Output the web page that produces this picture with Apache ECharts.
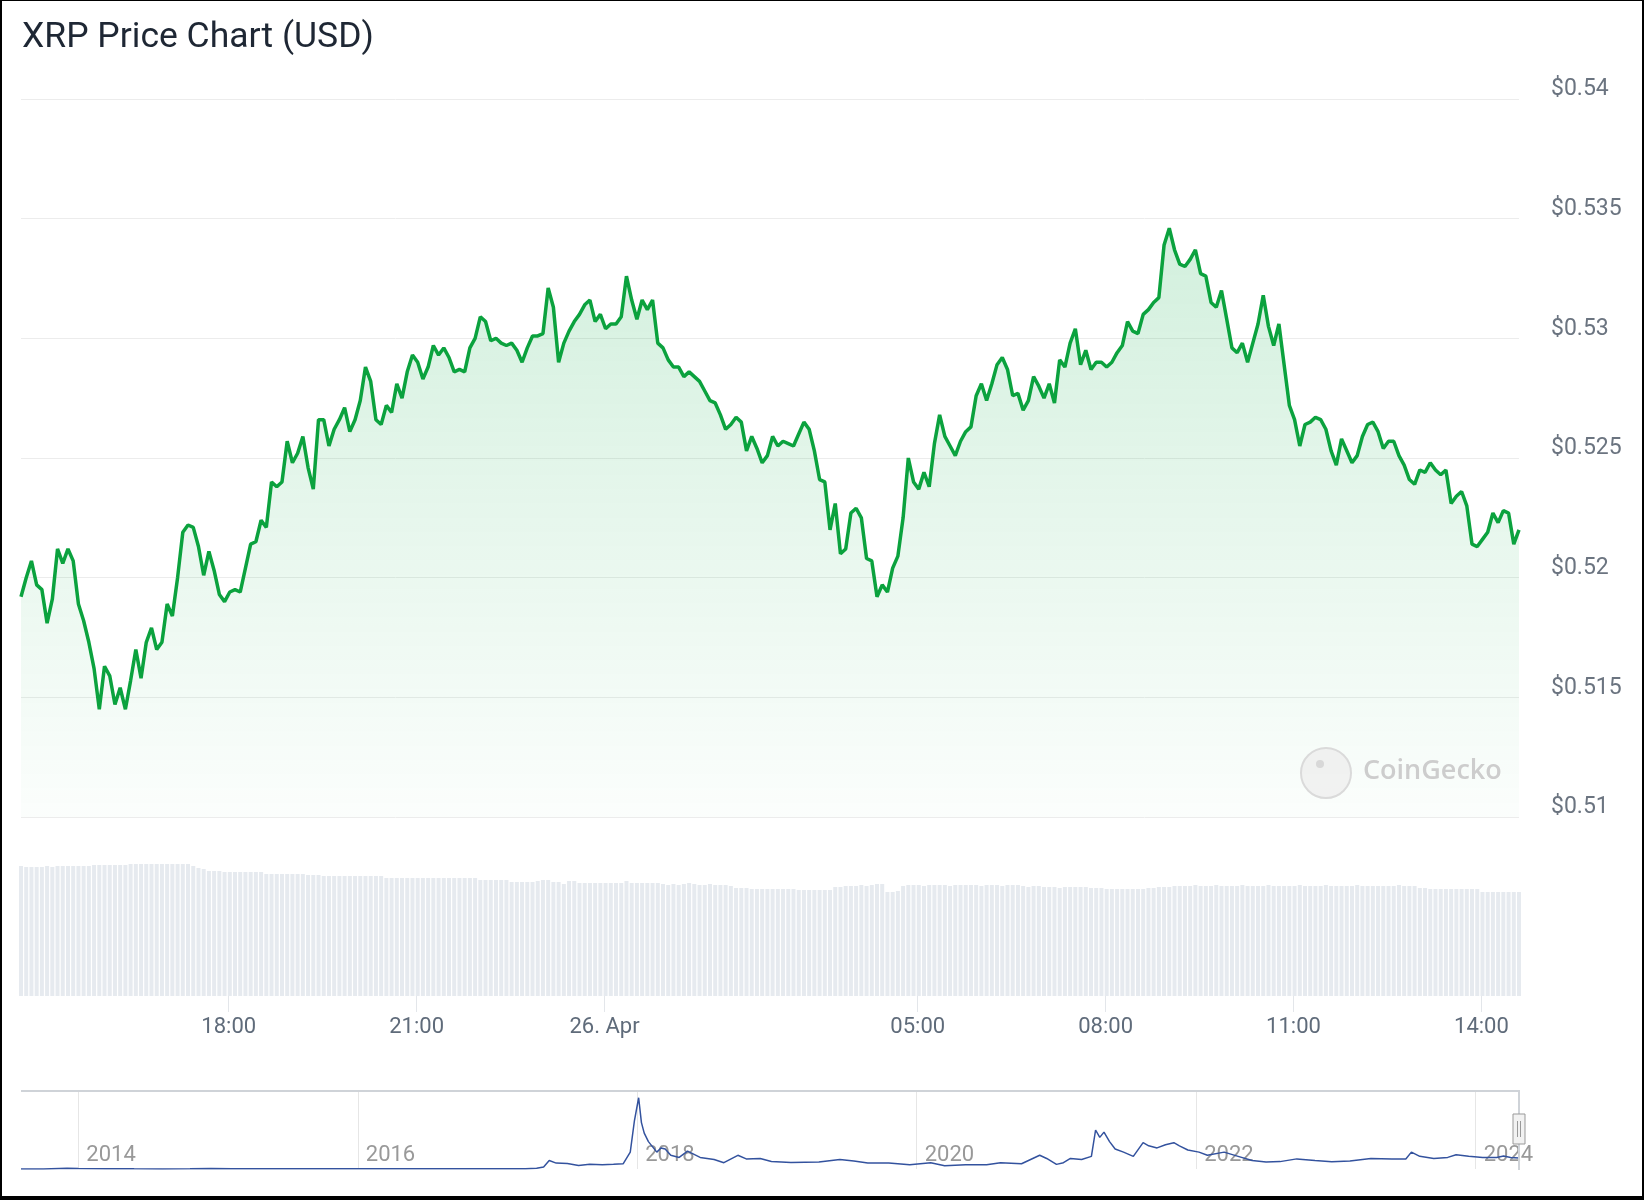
<!DOCTYPE html>
<html>
<head>
<meta charset="utf-8">
<title>XRP Price Chart (USD)</title>
<script src="https://cdn.jsdelivr.net/npm/echarts@6/dist/echarts.min.js"></script>
<style>
  html, body { margin: 0; padding: 0; background: #fff; }
  #chart { position: absolute; left: 0; top: 0; width: 1644px; height: 1200px; }
  #frame {
    position: absolute; left: 0; top: 0; width: 1644px; height: 1200px;
    box-sizing: border-box; border: solid #000; border-width: 1px 2px 4px 2px;
    pointer-events: none;
  }
</style>
</head>
<body>
<div id="chart"></div>
<div id="frame"></div>
<script>
// 24h of 5-minute prices, 25 Apr 14:41 -> 26 Apr 14:36 (hours counted from 25 Apr 00:00)
const startHour = 14 + 41 / 60
const stepHours = 5 / 60

const prices = [
  0.5192, 0.5200, 0.5207, 0.5197, 0.5195, 0.5181, 0.5191, 0.5212, 0.5206, 0.5212,
  0.5207, 0.5189, 0.5182, 0.5173, 0.5162, 0.5145, 0.5163, 0.5159, 0.5147, 0.5154,
  0.5145, 0.5157, 0.5170, 0.5158, 0.5173, 0.5179, 0.5170, 0.5173, 0.5189, 0.5184,
  0.5200, 0.5219, 0.5222, 0.5221, 0.5213, 0.5201, 0.5211, 0.5203, 0.5193, 0.5190,
  0.5194, 0.5195, 0.5194, 0.5204, 0.5214, 0.5215, 0.5224, 0.5221, 0.5240, 0.5238,
  0.5240, 0.5257, 0.5248, 0.5252, 0.5259, 0.5246, 0.5237, 0.5266, 0.5266, 0.5255,
  0.5262, 0.5266, 0.5271, 0.5261, 0.5266, 0.5274, 0.5288, 0.5282, 0.5266, 0.5264,
  0.5272, 0.5269, 0.5281, 0.5275, 0.5286, 0.5293, 0.5290, 0.5283, 0.5288, 0.5297,
  0.5293, 0.5296, 0.5292, 0.5286, 0.5287, 0.5286, 0.5296, 0.5300, 0.5309, 0.5307,
  0.5299, 0.5300, 0.5298, 0.5297, 0.5298, 0.5295, 0.5290, 0.5296, 0.5301, 0.5301,
  0.5302, 0.5321, 0.5313, 0.5290, 0.5298, 0.5303, 0.5307, 0.5310, 0.5314, 0.5316,
  0.5307, 0.5310, 0.5304, 0.5306, 0.5306, 0.5309, 0.5326, 0.5316, 0.5308, 0.5316,
  0.5312, 0.5316, 0.5298, 0.5296, 0.5291, 0.5288, 0.5288, 0.5284, 0.5286, 0.5284,
  0.5282, 0.5278, 0.5274, 0.5273, 0.5268, 0.5262, 0.5264, 0.5267, 0.5265, 0.5253,
  0.5259, 0.5254, 0.5248, 0.5251, 0.5259, 0.5255, 0.5257, 0.5256, 0.5255, 0.5260,
  0.5265, 0.5262, 0.5253, 0.5241, 0.5240, 0.5220, 0.5231, 0.5210, 0.5212, 0.5227,
  0.5229, 0.5225, 0.5208, 0.5207, 0.5192, 0.5197, 0.5194, 0.5204, 0.5209, 0.5225,
  0.5250, 0.5240, 0.5237, 0.5244, 0.5238, 0.5256, 0.5268, 0.5259, 0.5255, 0.5251,
  0.5257, 0.5261, 0.5263, 0.5276, 0.5281, 0.5274, 0.5281, 0.5289, 0.5292, 0.5287,
  0.5276, 0.5277, 0.5270, 0.5274, 0.5284, 0.5280, 0.5275, 0.5281, 0.5273, 0.5291,
  0.5288, 0.5298, 0.5304, 0.5289, 0.5295, 0.5287, 0.5290, 0.5290, 0.5288, 0.5290,
  0.5294, 0.5297, 0.5307, 0.5303, 0.5302, 0.5310, 0.5312, 0.5315, 0.5317, 0.5339,
  0.5346, 0.5337, 0.5331, 0.5330, 0.5333, 0.5337, 0.5327, 0.5326, 0.5315, 0.5313,
  0.5320, 0.5308, 0.5296, 0.5294, 0.5298, 0.5290, 0.5298, 0.5306, 0.5318, 0.5305,
  0.5297, 0.5306, 0.5289, 0.5272, 0.5266, 0.5255, 0.5264, 0.5265, 0.5267, 0.5266,
  0.5262, 0.5253, 0.5247, 0.5258, 0.5253, 0.5248, 0.5251, 0.5259, 0.5264, 0.5265,
  0.5261, 0.5254, 0.5257, 0.5257, 0.5251, 0.5247, 0.5241, 0.5239, 0.5245, 0.5244,
  0.5248, 0.5245, 0.5243, 0.5245, 0.5231, 0.5234, 0.5236, 0.5230, 0.5214, 0.5213,
  0.5216, 0.5219, 0.5227, 0.5223, 0.5228, 0.5227, 0.5214, 0.5220
]

// rolling 24h volume, billions USD
const volumes = [
  1.30, 1.29, 1.29, 1.29, 1.29, 1.30, 1.29, 1.30, 1.30, 1.30,
  1.30, 1.30, 1.30, 1.30, 1.31, 1.31, 1.31, 1.31, 1.31, 1.31,
  1.31, 1.32, 1.32, 1.32, 1.32, 1.32, 1.32, 1.32, 1.32, 1.32,
  1.32, 1.32, 1.32, 1.30, 1.28, 1.27, 1.25, 1.25, 1.25, 1.24,
  1.24, 1.24, 1.24, 1.24, 1.24, 1.24, 1.24, 1.22, 1.22, 1.22,
  1.22, 1.22, 1.22, 1.22, 1.22, 1.21, 1.21, 1.21, 1.20, 1.20,
  1.20, 1.20, 1.20, 1.20, 1.20, 1.20, 1.20, 1.20, 1.20, 1.20,
  1.18, 1.18, 1.18, 1.18, 1.18, 1.18, 1.18, 1.18, 1.18, 1.18,
  1.18, 1.18, 1.18, 1.18, 1.18, 1.18, 1.18, 1.18, 1.16, 1.16,
  1.16, 1.16, 1.16, 1.16, 1.14, 1.14, 1.14, 1.14, 1.14, 1.15,
  1.16, 1.16, 1.14, 1.14, 1.12, 1.15, 1.15, 1.13, 1.13, 1.13,
  1.13, 1.13, 1.13, 1.13, 1.13, 1.13, 1.15, 1.13, 1.13, 1.13,
  1.13, 1.13, 1.13, 1.12, 1.11, 1.12, 1.11, 1.12, 1.13, 1.12,
  1.11, 1.11, 1.12, 1.11, 1.11, 1.11, 1.10, 1.08, 1.08, 1.08,
  1.07, 1.07, 1.07, 1.07, 1.07, 1.07, 1.07, 1.07, 1.07, 1.06,
  1.06, 1.06, 1.06, 1.06, 1.06, 1.06, 1.09, 1.09, 1.10, 1.10,
  1.10, 1.11, 1.10, 1.11, 1.12, 1.12, 1.04, 1.04, 1.05, 1.10,
  1.11, 1.11, 1.11, 1.10, 1.11, 1.11, 1.11, 1.11, 1.10, 1.11,
  1.11, 1.11, 1.11, 1.11, 1.10, 1.11, 1.11, 1.11, 1.10, 1.11,
  1.11, 1.11, 1.10, 1.09, 1.10, 1.10, 1.09, 1.09, 1.09, 1.08,
  1.09, 1.09, 1.09, 1.09, 1.09, 1.08, 1.08, 1.08, 1.07, 1.07,
  1.07, 1.07, 1.07, 1.07, 1.07, 1.07, 1.08, 1.08, 1.09, 1.09,
  1.09, 1.10, 1.10, 1.10, 1.10, 1.11, 1.10, 1.10, 1.10, 1.11,
  1.10, 1.10, 1.10, 1.10, 1.11, 1.10, 1.10, 1.10, 1.10, 1.11,
  1.10, 1.10, 1.10, 1.10, 1.10, 1.11, 1.10, 1.10, 1.10, 1.10,
  1.11, 1.10, 1.10, 1.10, 1.10, 1.10, 1.11, 1.10, 1.10, 1.10,
  1.10, 1.10, 1.10, 1.10, 1.11, 1.10, 1.10, 1.10, 1.08, 1.08,
  1.07, 1.07, 1.07, 1.07, 1.07, 1.07, 1.07, 1.07, 1.07, 1.07,
  1.04, 1.04, 1.04, 1.04, 1.04, 1.04, 1.04, 1.04
]

const tickHours = [18, 21, 24, 29, 32, 35, 38]
const tickLabels = ['18:00', '21:00', '26. Apr', '05:00', '08:00', '11:00', '14:00']

const priceTicks = [0.51, 0.515, 0.52, 0.525, 0.53, 0.535, 0.54]

// all-time history shown in the navigator (decimal year, USD)
const navYears = [
  2013.59, 2013.75, 2013.92, 2014.0, 2014.2, 2014.4, 2014.6, 2014.8, 2014.95, 2015.1,
  2015.4, 2015.7, 2016.0, 2016.5, 2017.0, 2017.2, 2017.28, 2017.33, 2017.37, 2017.42,
  2017.5, 2017.58, 2017.66, 2017.75, 2017.83, 2017.9, 2017.95, 2017.98, 2018.01, 2018.03,
  2018.05, 2018.08, 2018.11, 2018.14, 2018.17, 2018.2, 2018.24, 2018.3, 2018.36, 2018.45,
  2018.55, 2018.62, 2018.72, 2018.78, 2018.88, 2018.96, 2019.1, 2019.3, 2019.45, 2019.55,
  2019.65, 2019.8, 2019.95, 2020.1, 2020.2, 2020.35, 2020.5, 2020.6, 2020.75, 2020.88,
  2020.93, 2021.0, 2021.05, 2021.1, 2021.18, 2021.25, 2021.28, 2021.31, 2021.34, 2021.38,
  2021.42, 2021.48, 2021.55, 2021.62, 2021.66, 2021.72, 2021.78, 2021.84, 2021.88, 2021.94,
  2022.02, 2022.08, 2022.2, 2022.3, 2022.4, 2022.5, 2022.6, 2022.72, 2022.85, 2022.97,
  2023.1, 2023.25, 2023.4, 2023.5, 2023.54, 2023.6, 2023.7, 2023.8, 2023.86, 2023.95,
  2024.05, 2024.15, 2024.2, 2024.25, 2024.31
]
const navPrices = [
  0.005, 0.005, 0.04, 0.02, 0.015, 0.006, 0.005, 0.006, 0.025, 0.012,
  0.008, 0.007, 0.006, 0.007, 0.007, 0.01, 0.04, 0.10, 0.40, 0.28,
  0.26, 0.17, 0.22, 0.20, 0.22, 0.25, 0.80, 2.30, 3.38, 2.20,
  1.70, 1.30, 1.05, 0.80, 1.00, 0.95, 0.65, 0.55, 0.85, 0.55,
  0.45, 0.30, 0.65, 0.48, 0.50, 0.36, 0.31, 0.33, 0.45, 0.38,
  0.28, 0.29, 0.20, 0.30, 0.15, 0.20, 0.20, 0.30, 0.25, 0.65,
  0.50, 0.22, 0.30, 0.50, 0.45, 0.60, 1.85, 1.50, 1.75, 1.30,
  0.95, 0.80, 0.60, 1.25, 1.10, 1.00, 1.15, 1.25, 1.10, 0.90,
  0.80, 0.65, 0.80, 0.60, 0.40, 0.33, 0.35, 0.48, 0.40, 0.34,
  0.38, 0.50, 0.48, 0.47, 0.80, 0.60, 0.50, 0.55, 0.68, 0.60,
  0.55, 0.55, 0.62, 0.55, 0.52
]
const navTickYears = [2014, 2016, 2018, 2020, 2022, 2024]

const hours = prices.map((_, i) => startHour + i * stepHours)
const priceData = prices.map((p, i) => [hours[i], p])
const volumeData = volumes.map((v, i) => [hours[i], v])
const navData = navYears.map((y, i) => [y, navPrices[i]])

const chart = echarts.init(document.getElementById('chart'))

const font = 'Roboto, "Noto Sans", sans-serif'

const option = {
  animation: false,
  textStyle: { fontFamily: font },
  title: {
    text: 'XRP Price Chart (USD)',
    left: 17,
    top: 15,
    textStyle: { fontSize: 35.5, fontWeight: 'normal', color: '#1e2734', fontFamily: font }
  },
  grid: [
    { left: 21, width: 1498, top: 99, height: 718 },
    { left: 21, width: 1498, top: 796, height: 200 },
    { left: 21, width: 1498, top: 1091, height: 78 }
  ],
  xAxis: [
    {
      type: 'value', gridIndex: 0,
      min: hours[0], max: hours[hours.length - 1],
      show: false
    },
    {
      type: 'value', gridIndex: 1,
      min: hours[0], max: hours[hours.length - 1],
      axisLine: { show: false },
      splitLine: { show: false },
      axisTick: {
        show: true, length: 16, customValues: tickHours,
        lineStyle: { color: '#e3e6ea', width: 1 }
      },
      axisLabel: {
        customValues: tickHours,
        margin: 20,
        fontSize: 22,
        color: '#5f6b7a',
        fontFamily: font,
        formatter: v => tickLabels[tickHours.indexOf(v)]
      }
    },
    {
      type: 'value', gridIndex: 2,
      min: navYears[0], max: navYears[navYears.length - 1],
      axisLine: { show: false },
      splitLine: { show: false },
      axisTick: {
        show: true, inside: true, length: 78, customValues: navTickYears,
        lineStyle: { color: '#e6e6e6', width: 1 }
      },
      axisLabel: {
        customValues: navTickYears,
        inside: true,
        margin: 3,
        align: 'left',
        padding: [0, 0, 0, 8],
        fontSize: 22,
        color: '#999999',
        fontFamily: font,
        formatter: v => String(v)
      }
    }
  ],
  yAxis: [
    {
      type: 'value', gridIndex: 0, position: 'right',
      min: priceTicks[0], max: priceTicks[priceTicks.length - 1], interval: 0.005,
      axisLine: { show: false },
      axisTick: { show: false },
      splitLine: { lineStyle: { color: '#ececec', width: 1 } },
      axisLabel: {
        margin: 32,
        fontSize: 23,
        color: '#6b7480',
        fontFamily: font,
        verticalAlign: 'bottom',
        lineHeight: 19,
        formatter: v => '$' + (+v.toFixed(3))
      }
    },
    { type: 'value', gridIndex: 1, min: 0, max: 2, show: false },
    { type: 'value', gridIndex: 2, min: 0, max: 3.7, show: false }
  ],
  series: [
    {
      name: 'Price',
      type: 'line',
      xAxisIndex: 0, yAxisIndex: 0,
      data: priceData,
      showSymbol: false,
      lineStyle: { color: '#0ba23e', width: 3.5 },
      itemStyle: { color: '#0ba23e' },
      areaStyle: {
        origin: 'start',
        color: new echarts.graphic.LinearGradient(0, 0, 0, 1, [
          { offset: 0, color: 'rgba(0,168,62,0.25)' },
          { offset: 1, color: 'rgba(0,168,62,0.02)' }
        ])
      },
      z: 3
    },
    {
      name: 'Volume',
      type: 'bar',
      xAxisIndex: 1, yAxisIndex: 1,
      data: volumeData,
      barWidth: 4,
      itemStyle: { color: '#e6eaef' }
    },
    {
      name: 'History',
      type: 'line',
      xAxisIndex: 2, yAxisIndex: 2,
      data: navData,
      showSymbol: false,
      lineStyle: { color: '#33529e', width: 1.5 },
      z: 3
    }
  ],
  graphic: [
    // CoinGecko watermark
    {
      type: 'circle', shape: { cx: 1326, cy: 773, r: 25 },
      style: { fill: 'rgba(236,236,236,0.7)', stroke: '#dadada', lineWidth: 2 }, z: 10
    },
    {
      type: 'circle', shape: { cx: 1320, cy: 764, r: 4 },
      style: { fill: '#d8d8d8' }, z: 11
    },
    {
      type: 'text', x: 1363, y: 771,
      style: {
        text: 'CoinGecko', fontSize: 27, fontWeight: 600, fontFamily: '"Open Sans", Roboto, sans-serif',
        fill: '#cdcdcd', verticalAlign: 'middle'
      }, z: 10
    },
    // navigator outline and handle
    {
      type: 'polyline', shape: { points: [[21, 1091], [1519, 1091], [1519, 1170]] },
      style: { stroke: '#cfd3d8', lineWidth: 2, fill: null }, z: 10
    },
    {
      type: 'rect', shape: { x: 1513, y: 1114, width: 12, height: 30 },
      style: { fill: '#f2f2f2', stroke: '#999999', lineWidth: 1 }, z: 11
    },
    {
      type: 'line', shape: { x1: 1517.5, y1: 1121, x2: 1517.5, y2: 1137 },
      style: { stroke: '#999999', lineWidth: 1 }, z: 12
    },
    {
      type: 'line', shape: { x1: 1520.5, y1: 1121, x2: 1520.5, y2: 1137 },
      style: { stroke: '#999999', lineWidth: 1 }, z: 12
    }
  ]
}

chart.setOption(option)
</script>
</body>
</html>
